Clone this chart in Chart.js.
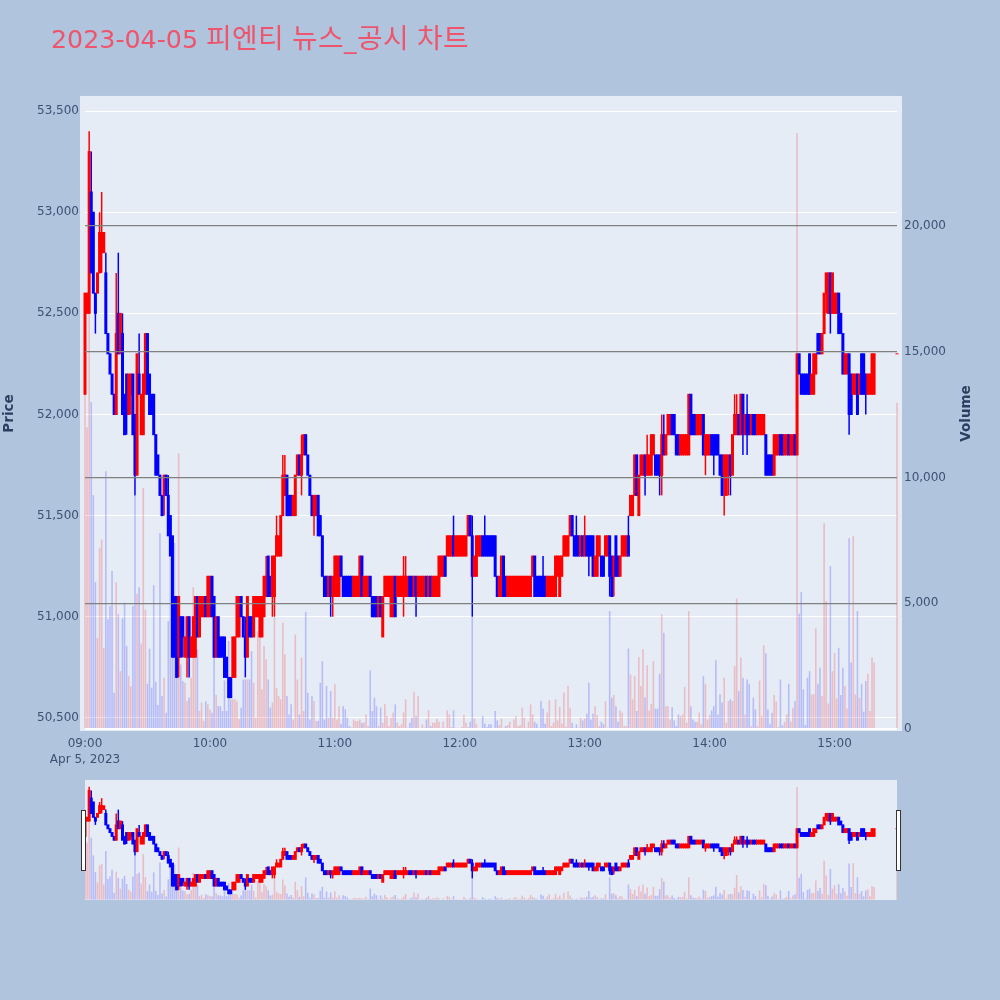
<!DOCTYPE html>
<html lang="ko">
<head>
<meta charset="utf-8">
<title>피엔티 뉴스_공시 차트</title>
<script src="https://cdn.jsdelivr.net/npm/chart.js@4/dist/chart.umd.min.js"></script>
<style>
    /* hangul in the title runs a little wider than the digits */
    @font-face {
        font-family: "TitleHangul";
        src: local("Noto Sans CJK KR Regular"), local("NotoSansCJKkr-Regular"), local("Noto Sans CJK KR");
        unicode-range: U+AC00-D7A3;
        size-adjust: 110%;
    }
    html, body { margin: 0; padding: 0; background: #B0C4DE; }
    #wrap { position: relative; width: 1000px; height: 1000px; overflow: hidden; }
    #mainChart { position: absolute; left: 0; top: 0; }
    #sliderChart { position: absolute; left: 85px; top: 780px; }
    .handle { position: absolute; top: 810px; width: 3px; height: 59px; background: #fff; border: 1px solid #333; }
</style>
</head>
<body>
<div id="wrap">
    <canvas id="mainChart" width="1000" height="1000"></canvas>
    <canvas id="sliderChart" width="812" height="120"></canvas>
    <div class="handle" style="left:81px"></div>
    <div class="handle" style="left:896px"></div>
</div>
<script>
// minutes after 09:00, one candle per minute then the closing auction at 15:30
const minutes = [
    0,1,2,3,4,5,6,7,8,9,10,11,12,13,14,15,16,17,18,19,20,21,22,23,24,25,26,27,28,29,30,31,32,33,34,35,36,37,38,39,
    40,41,42,43,44,45,46,47,48,49,50,51,52,53,54,55,56,57,58,59,60,61,62,63,64,65,66,67,68,69,70,71,72,73,74,75,76,77,78,79,
    80,81,82,83,84,85,86,87,88,89,90,91,92,93,94,95,96,97,98,99,100,101,102,103,104,105,106,107,108,109,110,111,112,113,114,115,116,117,118,119,
    120,121,122,123,124,125,126,127,128,129,130,131,132,133,134,135,136,137,138,139,140,141,142,143,144,145,146,147,148,149,150,151,152,153,154,155,156,157,158,159,
    160,161,162,163,164,165,166,167,168,169,170,171,172,173,174,175,176,177,178,179,180,181,182,183,184,185,186,187,188,189,190,191,192,193,194,195,196,197,198,199,
    200,201,202,203,204,205,206,207,208,209,210,211,212,213,214,215,216,217,218,219,220,221,222,223,224,225,226,227,228,229,230,231,232,233,234,235,236,237,238,239,
    240,241,242,243,244,245,246,247,248,249,250,251,252,253,254,255,256,257,258,259,260,261,262,263,264,265,266,267,268,269,270,271,272,273,274,275,276,277,278,279,
    280,281,282,283,284,285,286,287,288,289,290,291,292,293,294,295,296,297,298,299,300,301,302,303,304,305,306,307,308,309,310,311,312,313,314,315,316,317,318,319,
    320,321,322,323,324,325,326,327,328,329,330,331,332,333,334,335,336,337,338,339,340,341,342,343,344,345,346,347,348,349,350,351,352,353,354,355,356,357,358,359,
    360,361,362,363,364,365,366,367,368,369,370,371,372,373,374,375,376,377,378,379,390
];

const opens = [
    52100,52500,52500,53100,53000,52600,52600,52700,52800,52800,
    52700,52400,52300,52200,52100,52000,52500,52300,52400,52100,
    52200,52000,52100,52200,52000,51700,52200,51900,51900,52100,
    52400,52200,52100,52100,51900,51800,51700,51600,51600,51700,
    51600,51500,51400,51100,51100,50800,51000,51000,50800,50800,
    51000,50800,50800,50800,51100,50900,51000,51000,51100,51000,
    51000,51200,51100,50800,51000,50900,50900,50900,50800,50700,
    50700,50700,50700,50900,50900,51100,51000,50900,50800,51000,
    51000,50900,51000,51000,50900,50900,51000,51100,51300,51200,
    51100,51100,51300,51300,51300,51500,51600,51700,51600,51600,
    51500,51500,51700,51800,51700,51800,51900,51800,51700,51600,
    51500,51500,51600,51500,51400,51200,51200,51100,51200,51100,
    51100,51100,51100,51300,51200,51200,51200,51200,51200,51100,
    51100,51100,51100,51300,51100,51100,51100,51200,51100,51100,
    51100,51000,51100,50900,51100,51100,51100,51000,51000,51200,
    51100,51100,51100,51100,51100,51100,51200,51200,51100,51200,
    51100,51100,51100,51100,51200,51100,51200,51100,51100,51100,
    51100,51200,51200,51300,51300,51300,51300,51400,51300,51300,
    51300,51300,51300,51300,51400,51500,51400,51200,51200,51300,
    51300,51400,51400,51400,51400,51400,51400,51400,51200,51100,
    51100,51300,51200,51100,51100,51100,51100,51100,51100,51100,
    51100,51100,51100,51100,51100,51200,51300,51200,51200,51200,
    51200,51200,51100,51100,51100,51100,51100,51200,51100,51200,
    51300,51300,51300,51400,51500,51400,51400,51400,51300,51400,
    51300,51400,51400,51400,51400,51200,51200,51300,51300,51300,
    51300,51300,51400,51300,51200,51400,51300,51200,51300,51300,
    51300,51400,51500,51500,51600,51800,51500,51700,51700,51800,
    51700,51700,51700,51800,51800,51800,51800,51700,51900,51800,
    51900,51900,52000,52000,51900,51900,51800,51800,51800,51800,
    51800,52100,52000,52000,51900,51900,51900,52000,51800,51800,
    51800,51900,51900,51900,51900,51800,51800,51700,51600,51700,
    51800,51700,51900,51900,52000,51900,52100,51900,52000,52000,
    51900,52000,52000,51900,51900,51900,51900,51900,51800,51800,
    51800,51700,51800,51800,51900,51900,51800,51800,51900,51800,
    51800,51900,51800,52300,52200,52200,52200,52200,52300,52100,
    52100,52200,52400,52400,52300,52400,52600,52500,52700,52500,
    52500,52500,52600,52500,52400,52200,52200,52300,52200,52100,
    52100,52200,52100,52300,52300,52200,52100,52100,52100,52100,52300
];

const highs = [
    52600,52600,53400,53300,53000,52600,52700,53000,53100,52900,
    52800,52400,52300,52200,52100,52700,52800,52500,52500,52100,
    52200,52200,52200,52200,52000,52300,52400,52100,52200,52400,
    52400,52200,52100,52100,51900,51800,51700,51600,51700,51700,
    51700,51500,51400,51100,51100,51100,51000,51000,50900,51000,
    51000,50900,51000,51100,51100,51100,51100,51100,51100,51200,
    51200,51200,51100,51000,51000,50900,50900,50900,50800,50700,
    50700,50900,50900,51100,51100,51100,51000,51000,51100,51000,
    51000,51100,51100,51100,51100,51100,51200,51300,51300,51200,
    51300,51300,51500,51400,51500,51800,51800,51700,51600,51600,
    51600,51700,51800,51800,51900,51900,51900,51800,51700,51600,
    51600,51600,51600,51500,51400,51200,51200,51200,51200,51200,
    51300,51300,51300,51300,51200,51200,51200,51200,51200,51200,
    51200,51200,51300,51300,51200,51200,51200,51200,51100,51100,
    51100,51100,51100,51100,51200,51200,51200,51200,51200,51200,
    51200,51200,51200,51300,51300,51200,51200,51200,51200,51200,
    51200,51200,51200,51200,51200,51200,51200,51200,51200,51200,
    51300,51300,51300,51300,51400,51400,51400,51500,51400,51400,
    51400,51400,51400,51400,51500,51500,51500,51300,51400,51400,
    51400,51400,51500,51400,51400,51400,51400,51400,51200,51200,
    51300,51300,51200,51200,51200,51200,51200,51200,51200,51200,
    51200,51200,51200,51200,51200,51300,51300,51200,51200,51200,
    51300,51200,51200,51200,51200,51200,51300,51300,51300,51300,
    51400,51400,51400,51500,51500,51400,51500,51400,51400,51400,
    51500,51400,51400,51400,51400,51300,51400,51400,51300,51300,
    51400,51400,51400,51300,51300,51400,51300,51300,51400,51400,
    51400,51500,51600,51600,51800,51800,51700,51800,51800,51800,
    51900,51800,51900,51900,51800,51800,51800,52000,52000,51900,
    52000,52000,52000,52000,51900,51900,51900,51900,51900,51900,
    52100,52100,52000,52000,52000,52000,52000,52000,51900,51900,
    51900,51900,51900,51900,51900,51800,51800,51800,51800,51800,
    51800,51900,52100,52100,52000,52100,52100,52000,52100,52000,
    52000,52000,52000,52000,52000,52000,52000,51900,51800,51800,
    51800,51900,51900,51900,51900,51900,51900,51900,51900,51900,
    51900,51900,52300,52300,52200,52200,52200,52200,52300,52200,
    52300,52300,52400,52400,52400,52600,52700,52700,52700,52700,
    52600,52600,52600,52500,52400,52300,52300,52300,52200,52200,
    52200,52200,52200,52300,52300,52200,52200,52200,52300,52300,52300
];

const lows = [
    52100,52500,52500,52700,52600,52400,52600,52700,52700,52800,
    52400,52300,52200,52100,52000,52000,52300,52300,52000,51900,
    51900,52000,52000,51900,51600,51700,52100,51900,51900,52100,
    52100,52000,52000,51900,51700,51700,51600,51500,51500,51600,
    51400,51300,50800,50800,50700,50700,50800,50800,50800,50700,
    50700,50800,50800,50800,50900,50900,51000,51000,51000,51000,
    51000,51000,50800,50800,50800,50800,50800,50700,50700,50600,
    50600,50700,50700,50900,50900,51000,50900,50700,50800,50900,
    50900,50900,51000,51000,50900,50900,51000,51100,51100,51100,
    51000,51000,51300,51300,51300,51500,51600,51500,51500,51500,
    51500,51500,51700,51700,51600,51800,51800,51700,51600,51500,
    51400,51500,51400,51400,51200,51100,51100,51100,51000,51000,
    51100,51100,51100,51200,51100,51100,51100,51100,51100,51100,
    51100,51100,51100,51100,51100,51100,51100,51100,51000,51000,
    51000,51000,51000,50900,51100,51100,51100,51000,51000,51000,
    51100,51100,51100,51000,51100,51100,51100,51100,51100,51000,
    51100,51100,51100,51100,51100,51100,51100,51100,51100,51100,
    51100,51200,51200,51200,51300,51300,51300,51300,51300,51300,
    51300,51300,51300,51300,51400,51400,51000,51200,51200,51300,
    51300,51300,51300,51300,51300,51300,51300,51200,51100,51100,
    51100,51100,51100,51100,51100,51100,51100,51100,51100,51100,
    51100,51100,51100,51100,51100,51200,51100,51100,51100,51100,
    51100,51100,51100,51100,51100,51100,51100,51200,51100,51200,
    51300,51300,51300,51400,51400,51300,51300,51300,51300,51300,
    51300,51300,51200,51300,51200,51200,51200,51300,51200,51200,
    51300,51300,51100,51100,51100,51200,51200,51200,51300,51300,
    51300,51300,51500,51500,51600,51600,51500,51700,51700,51600,
    51700,51700,51700,51800,51700,51700,51600,51600,51800,51800,
    51900,51900,51900,51900,51800,51800,51800,51800,51800,51800,
    51800,51900,51900,51900,51900,51900,51900,51800,51700,51800,
    51800,51800,51700,51800,51800,51700,51600,51500,51600,51600,
    51600,51700,51900,51900,51900,51900,51800,51900,51800,51900,
    51900,51900,51900,51900,51900,51900,51900,51700,51700,51700,
    51700,51700,51800,51800,51800,51800,51800,51800,51800,51800,
    51800,51800,51800,52200,52100,52100,52100,52100,52100,52100,
    52100,52200,52300,52300,52300,52400,52500,52500,52400,52500,
    52500,52500,52400,52400,52200,52200,52200,51900,52000,52100,
    52100,52000,52100,52100,52100,52000,52100,52100,52100,52100,52300
];

const closes = [
    52600,52600,53300,52700,52600,52500,52700,52900,52900,52900,
    52400,52300,52200,52100,52000,52400,52300,52500,52000,51900,
    52000,52200,52200,51900,51700,52300,52100,52100,52200,52400,
    52100,52000,52000,51900,51700,51700,51600,51500,51700,51600,
    51400,51300,50800,50800,50700,51100,50800,50900,50900,51000,
    50800,50900,51000,51100,50900,51100,51100,51100,51000,51200,
    51200,51000,50800,51000,50800,50800,50800,50700,50700,50600,
    50600,50900,50900,51100,51100,51000,50900,50800,51100,50900,
    50900,51100,51100,51100,51100,51100,51200,51200,51100,51100,
    51300,51300,51400,51400,51500,51700,51700,51500,51500,51500,
    51600,51700,51800,51700,51800,51900,51800,51700,51600,51500,
    51600,51600,51400,51400,51200,51100,51100,51200,51100,51200,
    51300,51300,51300,51200,51100,51100,51100,51100,51100,51200,
    51200,51200,51300,51100,51200,51200,51200,51100,51000,51000,
    51000,51100,51000,51100,51200,51200,51200,51200,51200,51000,
    51200,51200,51200,51200,51200,51200,51100,51100,51200,51100,
    51200,51200,51200,51200,51100,51200,51100,51200,51200,51200,
    51300,51300,51300,51200,51400,51400,51400,51300,51400,51400,
    51400,51400,51400,51400,51500,51400,51200,51300,51400,51400,
    51400,51300,51300,51300,51300,51300,51300,51200,51100,51200,
    51300,51100,51100,51200,51200,51200,51200,51200,51200,51200,
    51200,51200,51200,51200,51200,51300,51100,51100,51100,51100,
    51100,51100,51200,51200,51200,51200,51300,51300,51300,51300,
    51400,51400,51400,51500,51400,51300,51300,51300,51400,51300,
    51400,51300,51300,51300,51200,51300,51400,51400,51200,51200,
    51400,51400,51200,51100,51300,51200,51200,51300,51400,51400,
    51400,51300,51600,51600,51800,51600,51700,51800,51800,51700,
    51800,51800,51900,51900,51700,51700,51700,51900,51800,51900,
    52000,52000,51900,51900,51800,51800,51900,51900,51900,51900,
    52100,51900,51900,51900,52000,52000,52000,51800,51900,51900,
    51900,51800,51800,51800,51800,51700,51600,51800,51800,51800,
    51700,51900,52000,52000,51900,52100,51900,52000,51900,51900,
    52000,51900,51900,52000,52000,52000,52000,51700,51700,51700,
    51700,51900,51900,51900,51800,51800,51900,51900,51800,51900,
    51900,51800,52300,52200,52100,52100,52100,52100,52100,52200,
    52300,52300,52300,52300,52400,52600,52700,52700,52500,52700,
    52600,52600,52400,52400,52200,52300,52300,52000,52000,52200,
    52200,52000,52200,52100,52100,52100,52200,52200,52300,52300,52300
];

const volumes = [
    16700,12000,16500,13000,9300,5840,3630,7200,7540,3230,
    10250,4360,4890,6280,1440,5840,4560,2300,4400,5020,
    3300,2100,1700,4890,9260,5380,5640,3400,9590,4750,
    1800,3190,1640,5720,1870,950,7790,1310,2040,650,
    4290,6800,6800,7400,5220,10960,2570,1900,1840,1110,
    1250,2040,5640,2840,3170,720,1050,320,1110,980,
    780,650,2840,1350,910,910,720,1930,720,3500,
    1180,1180,1180,1100,400,850,1970,1970,1970,1970,
    3100,1840,450,3900,3900,1580,3300,2770,1970,850,
    1050,4430,1640,1310,1180,4230,2970,1310,580,980,
    380,3760,1970,580,2840,715,4660,1440,380,1310,
    1110,320,320,1840,2700,380,1710,450,1510,450,
    1780,380,910,210,910,780,450,120,60,380,
    320,320,380,250,250,580,120,2330,715,1250,
    910,120,850,250,980,520,120,450,650,980,
    250,120,190,650,1180,50,250,450,1480,520,
    1310,50,190,60,380,750,120,250,250,420,
    290,50,290,50,740,580,80,740,50,50,
    30,80,560,250,80,290,4450,420,210,30,
    30,520,210,80,190,190,30,720,340,160,
    420,30,120,160,290,30,380,520,120,160,
    850,450,50,290,980,580,290,210,50,1110,
    820,210,650,1140,120,250,1180,340,880,220,
    1450,100,1710,850,250,50,190,50,450,340,
    420,610,1840,380,620,910,560,120,290,190,
    1110,50,4690,1250,1350,910,290,740,650,120,
    120,3200,2170,1180,2100,720,2860,1710,3170,1250,
    2540,740,1000,2700,810,810,2200,4560,3830,910,
    910,380,870,340,120,580,520,580,1670,250,
    4690,910,380,290,290,650,190,2100,1800,380,
    560,740,910,2730,580,1380,1050,2040,250,1110,
    1180,1110,2500,5190,1510,2840,2040,580,1970,1800,
    120,1250,780,120,1930,520,3330,3000,780,190,
    650,1350,1090,80,1970,150,290,580,1800,290,
    850,1110,23700,4580,5450,1580,160,2040,2300,1380,
    1380,4000,1800,2440,1310,8180,5090,1010,6480,2300,
    3030,1220,3230,1350,2440,1710,820,7580,2640,7670,
    1380,4690,1250,1800,690,1910,2200,720,2840,2640,12970
];

const timeTicks = [0, 60, 120, 180, 240, 300, 360];
const priceTicks = [50500, 51000, 51500, 52000, 52500, 53000, 53500];
const volumeTicks = [0, 5000, 10000, 15000, 20000];

const titleText = "2023-04-05 피엔티 뉴스_공시 차트";
const dateLabel = "Apr 5, 2023";
const priceRange = [50435, 53575];
const volumeRange = [-79, 25170];

const FONT = '"DejaVu Sans", "Noto Sans CJK KR", sans-serif';
const TEXT_COLOR = "#3f5173";
const PLOT_BG = "#E5ECF6";

function isUp(i) {
    return closes[i] >= opens[i];
}

function buildDatasets() {
    const solid = minutes.map((m, i) => isUp(i) ? "#ff0000" : "#0000ff");
    const faint = minutes.map((m, i) => isUp(i) ? "rgba(255,0,0,0.2)" : "rgba(0,0,255,0.2)");
    return [
        {
            label: "Volume",
            yAxisID: "y2",
            order: 1,
            data: minutes.map((m, i) => ({ x: m, y: volumes[i] })),
            backgroundColor: faint,
            barThickness: 1.6,
            clip: 5
        },
        {
            label: "Body",
            yAxisID: "y",
            order: 2,
            data: minutes.map((m, i) => ({ x: m, y: [opens[i], closes[i]] })),
            backgroundColor: solid,
            barThickness: 2,
            inflateAmount: 0.5,
            clip: 5
        },
        {
            label: "Wick",
            yAxisID: "y",
            order: 3,
            data: minutes.map((m, i) => ({ x: m, y: [lows[i], highs[i]] })),
            backgroundColor: solid,
            barThickness: 1.5,
            clip: 5
        }
    ];
}

function timeLabel(v) {
    const total = 540 + v;
    const text = String(Math.floor(total / 60)).padStart(2, "0") + ":" + String(total % 60).padStart(2, "0");
    return v === 0 ? [text, dateLabel] : text;
}

function fixedTicks(values) {
    return scale => { scale.ticks = values.map(v => ({ value: v })); };
}

// plot background sits a few pixels outside the axis range on the main chart
const plotBackground = {
    id: "plotBackground",
    beforeDraw(chart, args, opts) {
        const a = chart.chartArea;
        const m = opts.margin || 0;
        chart.ctx.save();
        chart.ctx.fillStyle = PLOT_BG;
        chart.ctx.fillRect(a.left - m, a.top, a.right - a.left + m * 2, a.bottom - a.top);
        chart.ctx.restore();
    }
};

const axisTitles = {
    id: "axisTitles",
    afterLayout(chart) {
        // title starts at x=51, not at the canvas edge
        chart.titleBlock.left = 51;
    },
    afterDraw(chart) {
        const ctx = chart.ctx;
        const mid = (chart.chartArea.top + chart.chartArea.bottom) / 2;
        ctx.save();
        ctx.fillStyle = "#2a3f5f";
        ctx.font = "bold 13.5px " + FONT;
        ctx.textAlign = "center";
        ctx.textBaseline = "middle";
        [["Price", 9], ["Volume", 966]].forEach(t => {
            ctx.save();
            ctx.translate(t[1], mid);
            ctx.rotate(-Math.PI / 2);
            ctx.fillText(t[0], 0, 0);
            ctx.restore();
        });
        ctx.restore();
    }
};

function drawCharts() {
    new Chart(document.getElementById("mainChart"), {
        type: "bar",
        data: { datasets: buildDatasets() },
        plugins: [plotBackground, axisTitles],
        options: {
            responsive: false,
            animation: false,
            layout: { padding: 0 },
            datasets: { bar: { grouped: false, inflateAmount: 0 } },
            plugins: {
                plotBackground: { margin: 5 },
                legend: { display: false },
                tooltip: { enabled: false },
                title: {
                    display: true,
                    text: titleText,
                    align: "start",
                    color: "#EE546C",
                    font: { family: '"DejaVu Sans", "TitleHangul", "Noto Sans CJK KR", sans-serif', size: 25.3, weight: "normal" },
                    padding: { top: 26, bottom: 39.6 }
                }
            },
            scales: {
                x: {
                    type: "linear",
                    offset: false,
                    min: 0,
                    max: 390,
                    afterFit(scale) { scale.height = 269; },
                    afterBuildTicks: fixedTicks(timeTicks),
                    grid: { display: false, drawTicks: false },
                    border: { display: false },
                    ticks: {
                        autoSkip: false,
                        maxRotation: 0,
                        padding: 4,
                        color: TEXT_COLOR,
                        font: { family: FONT, size: 12, lineHeight: 1.4 },
                        callback: timeLabel
                    }
                },
                y: {
                    position: "left",
                    min: priceRange[0],
                    max: priceRange[1],
                    afterFit(scale) { scale.width = 85; },
                    afterBuildTicks: fixedTicks(priceTicks),
                    border: { display: false },
                    grid: { color: "#ffffff", lineWidth: 1, drawTicks: false },
                    ticks: {
                        padding: 6,
                        color: TEXT_COLOR,
                        font: { family: FONT, size: 12 },
                        callback: v => v.toLocaleString("en-US")
                    }
                },
                y2: {
                    position: "right",
                    min: volumeRange[0],
                    max: volumeRange[1],
                    afterFit(scale) { scale.width = 103; },
                    afterBuildTicks: fixedTicks(volumeTicks),
                    border: { display: false },
                    grid: {
                        z: 1,
                        drawTicks: false,
                        color: c => c.tick.value === 0 ? "#ffffff" : "#808080",
                        lineWidth: c => c.tick.value === 0 ? 2 : 1.3
                    },
                    ticks: {
                        padding: 7,
                        color: TEXT_COLOR,
                        font: { family: FONT, size: 12 },
                        callback: v => v.toLocaleString("en-US")
                    }
                }
            }
        }
    });

    // range slider: same series over the whole day, no axes
    new Chart(document.getElementById("sliderChart"), {
        type: "bar",
        data: { datasets: buildDatasets() },
        plugins: [plotBackground],
        options: {
            responsive: false,
            animation: false,
            layout: { padding: 0 },
            datasets: { bar: { grouped: false, inflateAmount: 0 } },
            plugins: {
                legend: { display: false },
                tooltip: { enabled: false }
            },
            scales: {
                x: { type: "linear", offset: false, display: false, min: 0, max: 390 },
                y: { display: false, min: priceRange[0], max: priceRange[1] },
                y2: { display: false, min: volumeRange[0], max: volumeRange[1] }
            }
        }
    });
}

document.fonts.load('25px "TitleHangul"', "피엔티").then(drawCharts, drawCharts);
</script>
</body>
</html>
